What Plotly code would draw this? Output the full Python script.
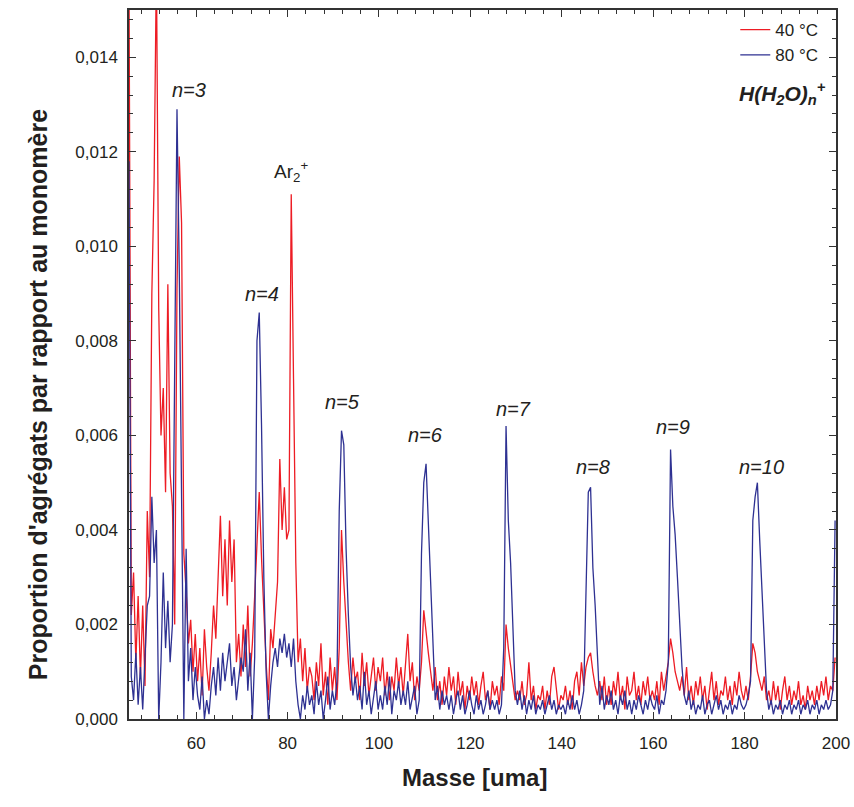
import plotly.graph_objects as go

# Mass channels: first channel and channel spacing (uma)
masse_debut = 45.3
pas_masse = 0.5

# 40 °C series (proportion relative to monomer), one value per channel
y_40 = [
    0.0158, 0.0022, 0.0031, 0.0012, 0.0026, 0.0009, 0.0024, 0.0007, 0.0044, 0.0030,
    0.0090, 0.0114, 0.0160, 0.0087, 0.0060, 0.0070, 0.0048, 0.0092, 0.0052, 0.0045,
    0.0020, 0.0091, 0.0119, 0.0105, 0.0035, 0.0027, 0.0016, 0.0021, 0.0010, 0.0018,
    0.0008, 0.0015, 0.0005, 0.0019, 0.0011, 0.0006, 0.0014, 0.0024, 0.0017, 0.0032,
    0.0043, 0.0026, 0.0038, 0.0024, 0.0042, 0.0029, 0.0038, 0.0012, 0.0018, 0.0009,
    0.0020, 0.0011, 0.0024, 0.0009, 0.0016, 0.0026, 0.0036, 0.0048, 0.0034, 0.0022,
    0.0012, 0.0004, 0.0019, 0.0015, 0.0022, 0.0029, 0.0055, 0.0040, 0.0049, 0.0038,
    0.0040, 0.0111, 0.0072, 0.0033, 0.0012, 0.0017, 0.0008, 0.0015, 0.0006, 0.0011,
    0.0009, 0.0004, 0.0012, 0.0007, 0.0016, 0.0005, 0.0010, 0.0003, 0.0013, 0.0006,
    0.0011, 0.0004, 0.0015, 0.0040, 0.0029, 0.0020, 0.0012, 0.0006, 0.0013, 0.0008,
    0.0010, 0.0004, 0.0014, 0.0007, 0.0012, 0.0005, 0.0009, 0.0013, 0.0006, 0.0011,
    0.0008, 0.0013, 0.0005, 0.0010, 0.0004, 0.0009, 0.0006, 0.0013, 0.0007, 0.0011,
    0.0005, 0.0011, 0.0018, 0.0008, 0.0012, 0.0004, 0.0009, 0.0006, 0.0012, 0.0023,
    0.0018, 0.0014, 0.0010, 0.0006, 0.0011, 0.0004, 0.0008, 0.0003, 0.0009, 0.0005,
    0.0011, 0.0006, 0.0009, 0.0003, 0.0010, 0.0005, 0.0008, 0.0002, 0.0007, 0.0004,
    0.0009, 0.0005, 0.0008, 0.0003, 0.0007, 0.0010, 0.0004, 0.0006, 0.0002, 0.0008,
    0.0005, 0.0007, 0.0003, 0.0009, 0.0006, 0.0020, 0.0015, 0.0011, 0.0007, 0.0004,
    0.0006, 0.0004, 0.0008, 0.0003, 0.0005, 0.0012, 0.0004, 0.0007, 0.0002, 0.0005,
    0.0004, 0.0007, 0.0002, 0.0006, 0.0003, 0.0009, 0.0011, 0.0006, 0.0002, 0.0005,
    0.0004, 0.0007, 0.0003, 0.0006, 0.0002, 0.0008, 0.0010, 0.0005, 0.0012, 0.0007,
    0.0011, 0.0013, 0.0014, 0.0010, 0.0007, 0.0005, 0.0008, 0.0004, 0.0009, 0.0003,
    0.0007, 0.0003, 0.0008, 0.0005, 0.0010, 0.0004, 0.0007, 0.0002, 0.0009, 0.0005,
    0.0006, 0.0010, 0.0004, 0.0007, 0.0003, 0.0008, 0.0005, 0.0009, 0.0004, 0.0006,
    0.0004, 0.0008, 0.0003, 0.0010, 0.0006, 0.0009, 0.0012, 0.0017, 0.0014, 0.0010,
    0.0008, 0.0006, 0.0009, 0.0005, 0.0011, 0.0004, 0.0007, 0.0003, 0.0008, 0.0005,
    0.0009, 0.0004, 0.0007, 0.0002, 0.0006, 0.0010, 0.0004, 0.0008, 0.0003, 0.0006,
    0.0005, 0.0009, 0.0004, 0.0007, 0.0003, 0.0008, 0.0005, 0.0010, 0.0006, 0.0004,
    0.0007, 0.0004, 0.0009, 0.0016, 0.0014, 0.0010, 0.0008, 0.0006, 0.0009, 0.0004,
    0.0006, 0.0003, 0.0008, 0.0004, 0.0007, 0.0002, 0.0006, 0.0009, 0.0004, 0.0007,
    0.0003, 0.0006, 0.0004, 0.0008, 0.0003, 0.0005, 0.0002, 0.0007, 0.0004, 0.0006,
    0.0003, 0.0007, 0.0004, 0.0008, 0.0005, 0.0009, 0.0004, 0.0007, 0.0006, 0.0013,
]

# 80 °C series
y_80 = [
    0.0118, 0.0009, 0.0004, 0.0014, 0.0003, 0.0011, 0.0002, 0.0013, 0.0024, 0.0026,
    0.0047, 0.0033, 0.0040, 0.0000, 0.0012, 0.0031, 0.0015, 0.0025, 0.0012, 0.0020,
    0.0075, 0.0129, 0.0095, 0.0040, 0.0000, 0.0036, 0.0008, 0.0015, 0.0004, 0.0011,
    0.0005, 0.0002, 0.0009, 0.0000, 0.0004, 0.0001, 0.0007, 0.0011, 0.0005, 0.0013,
    0.0006, 0.0014, 0.0008, 0.0012, 0.0016, 0.0007, 0.0011, 0.0004, 0.0009, 0.0013,
    0.0010, 0.0019, 0.0006, 0.0014, 0.0000, 0.0013, 0.0080, 0.0086, 0.0062, 0.0030,
    0.0010, 0.0000, 0.0007, 0.0012, 0.0015, 0.0011, 0.0017, 0.0014, 0.0018, 0.0013,
    0.0016, 0.0011, 0.0017, 0.0008, 0.0003, 0.0000, 0.0005, 0.0002, 0.0007, 0.0003,
    0.0005, 0.0001, 0.0008, 0.0003, 0.0006, 0.0000, 0.0004, 0.0009, 0.0002, 0.0006,
    0.0003, 0.0008, 0.0044, 0.0061, 0.0058, 0.0036, 0.0022, 0.0011, 0.0005, 0.0009,
    0.0004, 0.0007, 0.0002, 0.0010, 0.0003, 0.0006, 0.0001, 0.0005, 0.0008, 0.0002,
    0.0005, 0.0002, 0.0007, 0.0003, 0.0009, 0.0001, 0.0006, 0.0004, 0.0008, 0.0003,
    0.0006, 0.0003, 0.0008, 0.0002, 0.0005, 0.0007, 0.0001, 0.0004, 0.0035, 0.0050,
    0.0054, 0.0041, 0.0028, 0.0014, 0.0004, 0.0007, 0.0002, 0.0006, 0.0003, 0.0005,
    0.0002, 0.0005, 0.0001, 0.0004, 0.0006, 0.0002, 0.0005, 0.0001, 0.0003, 0.0006,
    0.0003, 0.0001, 0.0005, 0.0002, 0.0004, 0.0001, 0.0003, 0.0006, 0.0002, 0.0004,
    0.0002, 0.0004, 0.0001, 0.0003, 0.0015, 0.0062, 0.0042, 0.0033, 0.0018, 0.0006,
    0.0003, 0.0006, 0.0002, 0.0005, 0.0001, 0.0004, 0.0002, 0.0005, 0.0001, 0.0003,
    0.0002, 0.0004, 0.0001, 0.0003, 0.0005, 0.0002, 0.0004, 0.0001, 0.0003, 0.0002,
    0.0003, 0.0001, 0.0004, 0.0002, 0.0005, 0.0002, 0.0004, 0.0001, 0.0003, 0.0006,
    0.0028, 0.0048, 0.0049, 0.0032, 0.0024, 0.0012, 0.0003, 0.0007, 0.0002, 0.0005,
    0.0003, 0.0006, 0.0002, 0.0004, 0.0001, 0.0005, 0.0003, 0.0006, 0.0002, 0.0004,
    0.0001, 0.0004, 0.0002, 0.0005, 0.0003, 0.0001, 0.0004, 0.0002, 0.0005, 0.0003,
    0.0002, 0.0005, 0.0001, 0.0004, 0.0003, 0.0006, 0.0012, 0.0057, 0.0045, 0.0039,
    0.0030, 0.0019, 0.0011, 0.0005, 0.0003, 0.0006, 0.0002, 0.0004, 0.0001, 0.0003,
    0.0002, 0.0005, 0.0001, 0.0003, 0.0004, 0.0001, 0.0003, 0.0005, 0.0002, 0.0004,
    0.0001, 0.0003, 0.0002, 0.0004, 0.0001, 0.0003, 0.0002, 0.0005, 0.0003, 0.0002,
    0.0003, 0.0005, 0.0008, 0.0042, 0.0047, 0.0050, 0.0038, 0.0027, 0.0017, 0.0006,
    0.0002, 0.0004, 0.0001, 0.0003, 0.0002, 0.0004, 0.0001, 0.0003, 0.0002, 0.0004,
    0.0001, 0.0003, 0.0002, 0.0004, 0.0001, 0.0003, 0.0002, 0.0004, 0.0001, 0.0003,
    0.0002, 0.0004, 0.0001, 0.0003, 0.0002, 0.0004, 0.0002, 0.0003, 0.0006, 0.0042,
]

masse = [round(masse_debut + pas_masse * i, 2) for i in range(len(y_40))]

series_noms = ["40 °C", "80 °C"]
series_couleurs = ["#ED1C24", "#2E3192"]

x_ticks = [60, 80, 100, 120, 140, 160, 180, 200]
y_ticks = [0.0, 0.002, 0.004, 0.006, 0.008, 0.010, 0.012, 0.014]

pics_labels = ["n=3", "n=4", "n=5", "n=6", "n=7", "n=8", "n=9", "n=10"]

fig = go.Figure()
for nom, ys, col in zip(series_noms, [y_40, y_80], series_couleurs):
    fig.add_trace(go.Scatter(x=masse, y=ys, mode="lines", name=nom,
                             line=dict(color=col, width=1.3)))

font_fam = "Liberation Sans, Arial, sans-serif"
axis_common = dict(
    showline=True, linecolor="#333333", linewidth=1.5, mirror="allticks",
    ticks="inside", ticklen=7, tickwidth=1.2, tickcolor="#333333",
    showgrid=False, zeroline=False, automargin=False,
    tickfont=dict(family=font_fam, size=17, color="#231F20"),
)

fig.update_layout(
    width=854, height=807,
    margin=dict(l=129, r=18, t=10, b=88),
    paper_bgcolor="white", plot_bgcolor="white",
    separators=", ",
    font=dict(family=font_fam, color="#231F20"),
    showlegend=True,
    legend=dict(x=0.982, y=0.997, xanchor="right", yanchor="top",
                bgcolor="rgba(0,0,0,0)", font=dict(size=17, family=font_fam),
                tracegroupgap=0),
    xaxis=dict(range=[45.3, 200], tickvals=x_ticks, ticklabelstandoff=8,
               minor=dict(dtick=4, tick0=0, ticks="inside", ticklen=4, tickcolor="#333333"),
               **axis_common),
    yaxis=dict(range=[0, 0.015], tickvals=y_ticks, tickformat=".3f", ticklabelstandoff=6,
               minor=dict(dtick=0.0004, tick0=0, ticks="inside", ticklen=4, tickcolor="#333333"),
               **axis_common),
)

# Axis titles
fig.add_annotation(x=0.488, y=-0.104, xref="paper", yref="paper",
                   text="<b>Masse [uma]</b>", showarrow=False,
                   font=dict(size=24, family=font_fam, color="#231F20"))
fig.add_annotation(x=-0.151, y=0.457, xref="paper", yref="paper", textangle=-90,
                   text="<b>Proportion d'agrégats par rapport au monomère</b>", showarrow=False,
                   font=dict(size=25, family=font_fam, color="#231F20"))

label_pos = [(58.4, 0.0133), (74.5, 0.0090), (92.0, 0.0067), (110.1, 0.0060),
             (129.4, 0.00655), (146.9, 0.00533), (164.4, 0.00617), (183.8, 0.00533)]
for txt, (lx, ly) in zip(pics_labels, label_pos):
    fig.add_annotation(x=lx, y=ly, text="<i>" + txt + "</i>", showarrow=False,
                       font=dict(size=20, family=font_fam, color="#231F20"))

fig.add_annotation(x=80.7, y=0.01158, text="Ar<sub>2</sub><sup>+</sup>", showarrow=False,
                   font=dict(size=19, family=font_fam, color="#231F20"))
fig.add_annotation(x=0.988, y=0.905, xref="paper", yref="paper", xanchor="right",
                   text="<b><i>H(H<sub>2</sub>O)<sub>n</sub><sup>+</sup></i></b>",
                   showarrow=False, font=dict(size=21, family=font_fam, color="#231F20"))

fig.write_html("out.html", config={"displayModeBar": False},
               post_script="document.body.style.margin='0';")
